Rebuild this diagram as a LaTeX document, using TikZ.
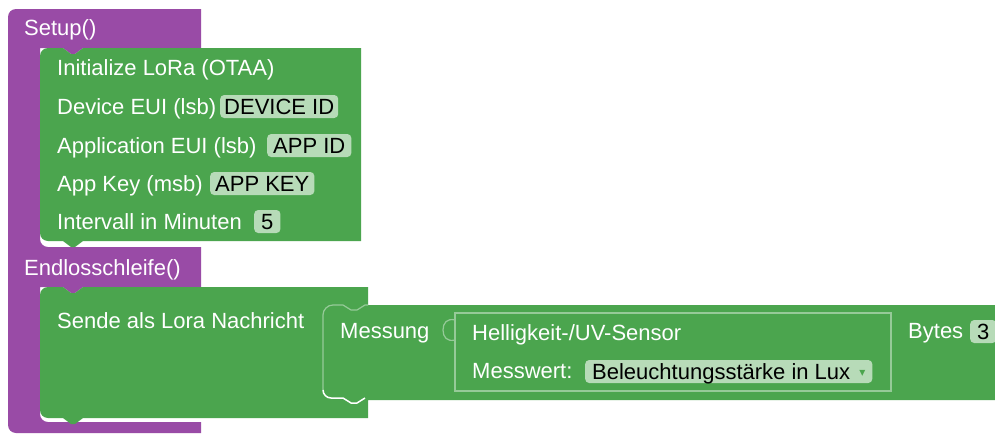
\documentclass[tikz,border=0pt]{standalone}
\usepackage{fontspec}
\setmainfont{Liberation Sans}
\newfontfamily\symb{DejaVu Sans}
\definecolor{loopviolet}{RGB}{153,75,166}
\definecolor{blockgreen}{RGB}{75,165,78}
\definecolor{fieldgreen}{RGB}{183,219,184}
\definecolor{edgegreen}{RGB}{150,202,152}
\begin{document}
\begin{tikzpicture}[x=1pt,y=-1pt,font=\fontsize{22}{26}\selectfont,
  lbl/.style={text=white,anchor=base west,inner sep=0pt},
  fld/.style={fill=fieldgreen,text=black,rounded corners=4pt,anchor=base west,
    inner xsep=5pt,inner ysep=2pt,text height=17pt,text depth=2pt},
  slot/.style={draw=edgegreen,line width=1.2pt}]
\fill[white](0,0)rectangle(995,434);
\useasboundingbox(0,0)rectangle(995,434);
% violet frame with the two statement inputs
\fill[loopviolet](8,17)..controls(8,12.6)and(11.6,9)..(16,9)--(201,9)--(201,48)--(83,48)--(75,54)--(71,54)--(63,48)--(40,48)
  --(40,239)..controls(40,243.4)and(43.6,247)..(48,247)--(201,247)--(201,287)--(83,287)--(75,293)--(71,293)--(63,287)--(40,287)
  --(40,414)..controls(40,418.4)and(43.6,422)..(48,422)--(201,422)--(201,433)--(16,433)..controls(11.6,433)and(8,429.4)..(8,425)--cycle;
% setup block
\fill[blockgreen](40,56)..controls(40,51.6)and(43.6,48)..(48,48)--(63,48)--(71,54)--(75,54)--(83,48)--(361,48)--(361,241)
  --(83,241)--(75,247)--(71,247)--(63,241)--(48,241)..controls(43.6,241)and(40,237.4)..(40,233)--cycle;
% loop block with the plugged measurement
\fill[blockgreen](40,295)..controls(40,290.6)and(43.6,287)..(48,287)--(63,287)--(71,293)--(75,293)--(83,287)--(368,287)--(368,305)
  --(1000,305)--(1000,400)--(368,400)--(368,418)--(83,418)--(75,424)--(71,424)--(63,418)--(48,418)
  ..controls(43.6,418)and(40,414.4)..(40,410)--cycle;
\draw[slot](368,305)--(365,305)--(357,310)--(351,310)--(343,305)--(333,305)..controls(327.5,305)and(323,309.5)..(323,315)--(323,390);
\draw[white,line width=1.5pt](323,390)..controls(323,394.4)and(326.6,398)..(331,398)--(343,398)--(351,403)--(357,403)--(365,398);
\draw[slot](455,320)..controls(447,318)and(443,323)..(443,330)..controls(443,337)and(447,342)..(455,340);
\draw[slot](455,313)rectangle(891,391);
\node[lbl](setup)at(24,35){Setup()};
\node[lbl](init)at(57,75){Initialize LoRa (OTAA)};
\node[lbl](deveui)at(57,114){Device EUI (lsb)};
\node[fld,inner xsep=4pt](devid)at(220,114){DEVICE ID};
\node[lbl](appeui)at(57,153){Application EUI (lsb)};
\node[fld,inner xsep=6pt](appid)at(267,153){APP ID};
\node[lbl](appkey)at(57,191){App Key (msb)};
\node[fld](keyval)at(210,191){APP KEY};
\node[lbl](intervall)at(57,229){Intervall in Minuten};
\node[fld,inner xsep=7pt](minuten)at(254,229){5};
\node[lbl](loop)at(24,275){Endlosschleife()};
\node[lbl](sende)at(57,328){Sende als Lora Nachricht};
\node[lbl](messung)at(340,338){Messung};
\node[lbl](sensor)at(472,340){Helligkeit-/UV-Sensor};
\node[lbl](messwert)at(472,378){Messwert:};
\node[fld,inner xsep=7pt](wert)at(585,379){Beleuchtungsstärke in Lux\hspace{9pt}\raisebox{3pt}{\symb\fontsize{12}{12}\selectfont\color{blockgreen}▾}};
\node[lbl](bytes)at(908,338){Bytes};
\node[fld,inner xsep=7pt](anzahl)at(970,339){3};
\end{tikzpicture}
\end{document}
